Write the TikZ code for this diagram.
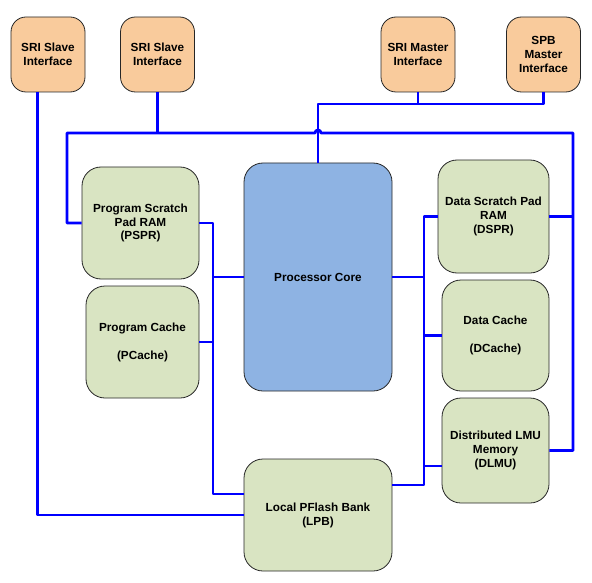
\documentclass[tikz,border=0pt]{standalone}
\usepackage{fontspec}
\setmainfont{Liberation Sans}
\definecolor{ifacefill}{HTML}{F9CB9C}
\definecolor{memfill}{HTML}{D9E4C2}
\definecolor{corefill}{HTML}{8EB3E3}
\definecolor{busblue}{HTML}{0000FF}
\begin{document}
\begin{tikzpicture}[x=1bp,y=-1bp,line join=round,
	blk/.style={draw=black!85,line width=0.8bp,align=center,inner sep=2bp,
		font=\fontsize{11.8}{14}\selectfont\bfseries},
	iface/.style={blk,fill=ifacefill,rounded corners=15bp,minimum width=74bp,minimum height=75bp},
	mem/.style={blk,fill=memfill,rounded corners=19bp},
	bus/.style={draw=busblue,line width=2.8bp}]
	\useasboundingbox (0,0) rectangle (592,583);
	% interfaces
	\node[iface] (slvA) at (48,54.5) {SRI Slave\\Interface};
	\node[iface] (slvB) at (157.5,54.5) {SRI Slave\\Interface};
	\node[iface] (mst) at (418,54.5) {SRI Master\\Interface};
	\node[iface] (spb) at (543.5,54.5) {SPB\\Master\\Interface};
	% memories and core
	\node[mem,minimum width=117bp,minimum height=112bp] (pspr) at (140.5,223) {Program Scratch\\Pad RAM\\(PSPR)};
	\node[mem,minimum width=113bp,minimum height=112bp] (pcache) at (142.5,342) {Program Cache\\[14bp](PCache)};
	\node[mem,fill=corefill,minimum width=148bp,minimum height=228bp] (core) at (318,277) {Processor Core};
	\node[mem,minimum width=111bp,minimum height=113bp] (dspr) at (493.5,216.5) {Data Scratch Pad\\RAM\\(DSPR)};
	\node[mem,minimum width=107bp,minimum height=111bp] (dcache) at (495.5,335.5) {Data Cache\\[14bp](DCache)};
	\node[mem,minimum width=107bp,minimum height=105bp] (dlmu) at (495.5,450.5) {Distributed LMU\\Memory\\(DLMU)};
	\node[mem,minimum width=148bp,minimum height=112bp] (lpb) at (318,515) {Local PFlash Bank\\(LPB)};
	% bus corners
	\coordinate (ltop) at (67,133);
	\coordinate (rtop) at (573,133);
	\coordinate (mbus) at (318,104);
	\coordinate (lbus) at (213,223);
	\coordinate (rbus) at (424,216.5);
	% slave A to flash
	\draw[bus] ([xshift=-10.5bp]slvA.south) |- (lpb.west);
	% slave B and the top bus
	\draw[bus] (slvB.south) -- (slvB.south |- ltop);
	\draw[bus] (pspr.west) -| (ltop) -- (315,133)
		arc[start angle=180,end angle=0,radius=3bp] -- (rtop) |- (dlmu.east);
	\draw[bus] (dspr.east) -- (dspr.east -| rtop);
	% masters to core
	\draw[bus] (mst.south) -- (mst.south |- mbus);
	\draw[bus] (spb.south) |- (mbus) -- (core.north);
	% left bus
	\draw[bus] (pspr.east) -- (lbus) |- ([yshift=21bp]lpb.west);
	\draw[bus] (pcache.east) -- (pcache.east -| lbus);
	\draw[bus] (core.west) -- (core.west -| lbus);
	% right bus
	\draw[bus] (dspr.west) -- (rbus) |- ([yshift=-15.5bp]dlmu.west);
	\draw[bus] (core.east) -- (core.east -| rbus);
	\draw[bus] (dcache.west) -- (dcache.west -| rbus);
	\draw[bus] ([yshift=30bp]lpb.east) -| ([yshift=-15.5bp]dlmu.west -| rbus);
\end{tikzpicture}
\end{document}
